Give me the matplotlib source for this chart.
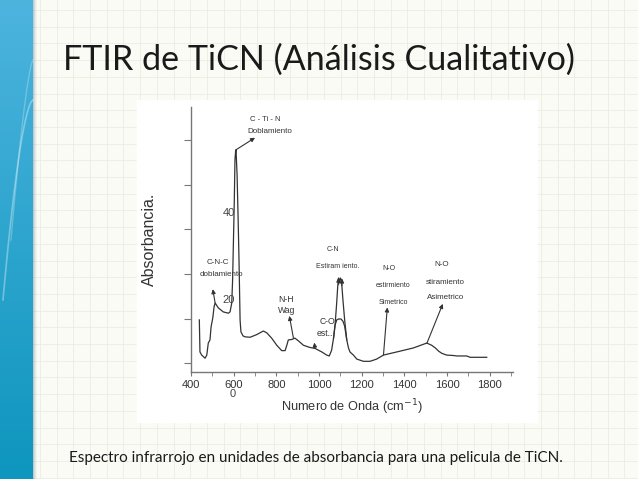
import numpy as np
import matplotlib
matplotlib.use("Agg")
import matplotlib.pyplot as plt
from matplotlib.patches import Rectangle

# ---------------- data ----------------
wavenumber = [439, 442, 450, 466, 474, 481, 489, 494, 502, 508, 513, 528, 551, 575, 583,
              591, 595, 598, 603, 606, 609, 611, 616, 621, 625, 630, 634, 644, 653, 677,
              708, 739, 755, 778, 802, 825, 841, 849, 856, 872, 887, 903, 927, 958, 981,
              1013, 1036, 1048, 1059, 1068, 1075, 1082, 1088, 1092, 1097, 1100, 1105, 1112,
              1120, 1130, 1138, 1145, 1161, 1177, 1208, 1239, 1270, 1302, 1364, 1442, 1505,
              1528, 1545, 1560, 1575, 1598, 1630, 1646, 1692, 1708, 1755, 1786]
absorbance = [9.7, 2.5, 1.8, 1.1, 1.8, 4.5, 5.2, 8.1, 10.1, 12.6, 13.5, 12.4, 11.5, 11.2, 11.5,
              13.5, 18.7, 25.4, 36.6, 45.6, 47.6, 47.9, 42.2, 32.1, 23.1, 9.7, 7.0, 6.1, 5.9, 5.8,
              6.4, 7.2, 6.8, 5.6, 4.0, 2.8, 2.8, 4.0, 5.2, 5.3, 5.6, 5.0, 4.0, 3.5, 3.3,
              2.5, 1.8, 1.6, 2.9, 5.6, 8.5, 13.0, 17.5, 19.1, 18.0, 19.1, 18.7, 14.2,
              9.7, 5.2, 3.4, 2.5, 1.8, 0.9, 0.4, 0.4, 0.9, 1.8, 2.5, 3.4, 4.5,
              4.0, 3.4, 2.7, 2.2, 1.8, 1.7, 1.6, 1.6, 1.3, 1.3, 1.3]
# inner hump under the C-N band
hump_wn = [1068, 1075, 1083, 1092, 1103, 1112, 1120, 1130]
hump_abs = [5.6, 8.5, 9.7, 9.9, 9.9, 9.4, 8.3, 5.2]

xticks = [400, 600, 800, 1000, 1200, 1400, 1600, 1800]
yticks = [0, 10, 20, 30, 40, 50]

W, H = 638, 479
fig = plt.figure(figsize=(W / 100, H / 100), dpi=100)

# ---------------- slide background ----------------
bg = fig.add_axes([0, 0, 1, 1], zorder=-5)
bg.set_xlim(0, W)
bg.set_ylim(H, 0)
bg.axis("off")
bg.add_patch(Rectangle((0, 0), W, H, color="#fbfbf6", zorder=0))
for gx in np.arange(6.5, W, 16.7):
    bg.plot([gx, gx], [0, H], color="#e8ede2", lw=0.6, zorder=1)
for gy in np.arange(10, H, 16.7):
    bg.plot([0, W], [gy, gy], color="#e8ede2", lw=0.6, zorder=1)

# left blue bar with gradient
grad = np.linspace(0, 1, 200).reshape(-1, 1)
c1 = np.array(matplotlib.colors.to_rgb("#4db4de"))
c2 = np.array(matplotlib.colors.to_rgb("#0e96be"))
img = (c1[None, None, :] * (1 - grad[..., None]) + c2[None, None, :] * grad[..., None])
bg.imshow(img, extent=[0, 33, H, 0], aspect="auto", zorder=2)
# shadow edge
for i, a in enumerate([0.35, 0.22, 0.12, 0.05]):
    bg.add_patch(Rectangle((33 + i, 0), 1, H, color="#4a6f80", alpha=a, lw=0, zorder=2))
# decorative light arcs
tt = np.linspace(0, 1, 100)
bg.plot(33 - 30 * tt ** 0.6, 100 + 200 * tt, color="white", alpha=0.35, lw=1.2, zorder=3)
bg.plot(33 - 22 * tt ** 0.7, 60 + 180 * tt, color="white", alpha=0.25, lw=1.0, zorder=3)

# white picture box
bg.add_patch(Rectangle((137, 100), 400, 322, color="white", zorder=4))

# title and caption
bg.text(63, 60, "FTIR de TiCN (Análisis Cualitativo)", fontsize=24.6, family="Lato",
        color="#1a1a1a", va="center", ha="left", zorder=5)
bg.text(69, 458, "Espectro infrarrojo en unidades de absorbancia para una pelicula de TiCN.",
        fontsize=11, family="Lato", color="#1a1a1a", va="center", ha="left", zorder=5)

# ---------------- spectrum axes ----------------
left, right, top, bottom = 191, 513, 107, 372
ax = fig.add_axes([left / W, 1 - bottom / H, (right - left) / W, (bottom - top) / H])
ax.set_facecolor("none")
ax.set_xlim(400, 1909)
ax.set_ylim(-2.0, 57.5)
for s in ["top", "right"]:
    ax.spines[s].set_visible(False)
for s in ["left", "bottom"]:
    ax.spines[s].set_color("#777777")
    ax.spines[s].set_linewidth(1.0)

ax.plot(wavenumber, absorbance, color="#333333", lw=0.9)
ax.plot(hump_wn, hump_abs, color="#333333", lw=0.9)

ax.set_xticks(xticks)
ax.set_xticks(np.arange(500, 1901, 200), minor=True)
ax.set_yticks(yticks)
ax.set_yticklabels([])
ax.tick_params(axis="x", which="both", direction="out", length=3, color="#777777",
               labelsize=8, labelcolor="#333333", pad=3)
ax.tick_params(axis="y", direction="out", length=5, color="#777777")
for lab in ax.get_xticklabels():
    lab.set_family("Liberation Sans")

ax.set_xlabel("Numero de Onda (cm$^{-1}$)", fontsize=9.2, family="Liberation Sans",
              color="#333333", labelpad=5)
ax.set_ylabel("Absorbancia.", fontsize=11.5, family="Liberation Sans", color="#333333",
              labelpad=16)

# stray axis numbers of the original picture
for txt, x, y in [("40", 578, 33.7), ("20", 578, 14.2), ("0", 597, -7.0)]:
    ax.text(x, y, txt, fontsize=8, family="Liberation Sans", color="#444444",
            ha="center", va="center", clip_on=False)

af = dict(family="Liberation Sans", color="#333333", ha="center", va="center")

ax.text(747, 54.6, "C - Ti - N", fontsize=5.5, **af)
ax.text(770, 52.1, "Doblamiento", fontsize=5.8, **af)
ax.text(527, 22.5, "C-N-C", fontsize=5.8, **af)
ax.text(541, 19.8, "doblamiento", fontsize=5.8, **af)
ax.text(845, 14.2, "N-H", fontsize=6.2, **af)
ax.text(850, 11.7, "Wag", fontsize=6.2, **af)
ax.text(1038, 9.4, "C-O", fontsize=6.2, **af)
ax.text(1028, 6.7, "est..", fontsize=6.2, **af)
ax.text(1066, 25.6, "C-N", fontsize=5, **af)
ax.text(1089, 21.6, "Estiram iento.", fontsize=5, **af)
ax.text(1328, 21.3, "N-O", fontsize=5, **af)
ax.text(1347, 17.5, "estirmiento", fontsize=5, **af)
ax.text(1347, 13.7, "Simetrico", fontsize=5, **af)
ax.text(1577, 22.2, "N-O", fontsize=5.8, **af)
ax.text(1591, 18.2, "stiramiento", fontsize=5.8, **af)
ax.text(1591, 14.8, "Asimetrico", fontsize=5.8, **af)

arrows = [((611, 47.9), (700, 50.6)),
          ((513, 13.5), (502, 16.6)),
          ((880, 5.6), (861, 10.6)),
          ((981, 3.3), (978, 4.6)),
          ((1092, 17.6), (1090, 19.2)),
          ((1107, 17.4), (1108, 19.0)),
          ((1302, 1.8), (1320, 12.5)),
          ((1505, 4.4), (1580, 13.3))]
for tail, head in arrows:
    ax.annotate("", xy=head, xytext=tail,
                arrowprops=dict(arrowstyle="-|>", lw=0.8, color="#333333",
                                mutation_scale=6, shrinkA=0, shrinkB=0))

fig.savefig("out.png", dpi=100)
